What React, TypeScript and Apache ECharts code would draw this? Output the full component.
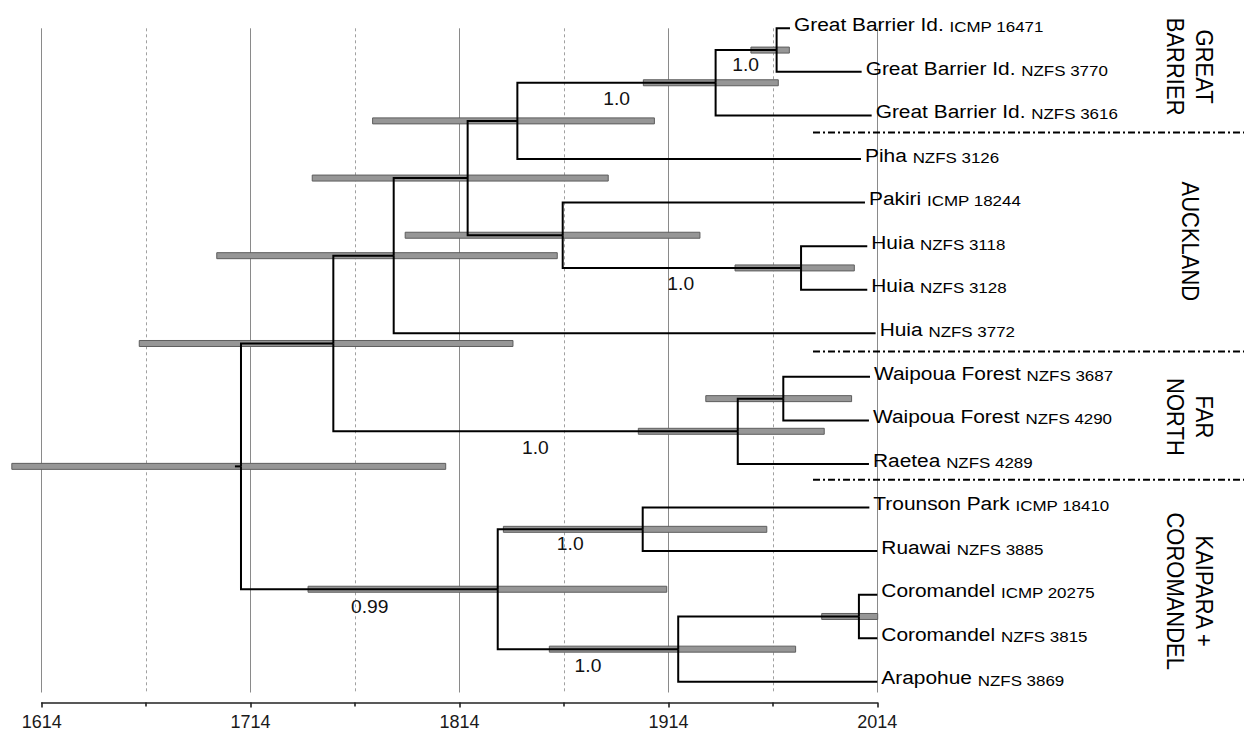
import React, { useEffect, useRef } from 'react';
import * as echarts from 'echarts';

// ---------- data ----------
const BASE_YEAR = 1614;
const END_YEAR = 2014;
const TICK_STEP = 100;

const leafNames = [
  'Great Barrier Id.', 'Great Barrier Id.', 'Great Barrier Id.', 'Piha', 'Pakiri',
  'Huia', 'Huia', 'Huia', 'Waipoua Forest', 'Waipoua Forest', 'Raetea',
  'Trounson Park', 'Ruawai', 'Coromandel', 'Coromandel', 'Arapohue',
];
const leafCodes = [
  'ICMP 16471', 'NZFS 3770', 'NZFS 3616', 'NZFS 3126', 'ICMP 18244',
  'NZFS 3118', 'NZFS 3128', 'NZFS 3772', 'NZFS 3687', 'NZFS 4290', 'NZFS 4289',
  'ICMP 18410', 'NZFS 3885', 'ICMP 20275', 'NZFS 3815', 'NZFS 3869',
];
const leafTimes = [
  1972.2, 2006.5, 2011.3, 2006.2, 2008.1, 2009.2, 2009.2, 2013.2,
  2010.5, 2010.0, 2010.0, 2010.2, 2014.0, 2014.0, 2014.0, 2014.0,
];

// internal nodes: N0 = root
const nodeTimes = [
  1709.4, 1753.6, 1832.3, 1782.5, 1817.9, 1841.7, 1936.6, 1965.8,
  1863.4, 1977.5, 1947.2, 1969.0, 1901.7, 1918.7, 2005.2,
];
const nodeChildren: string[][] = [
  ['N1', 'N2'],
  ['N3', 'N10'],
  ['N12', 'N13'],
  ['N4', 'L7'],
  ['N5', 'N8'],
  ['N6', 'L3'],
  ['N7', 'L2'],
  ['L0', 'L1'],
  ['L4', 'N9'],
  ['L5', 'L6'],
  ['N11', 'L10'],
  ['L8', 'L9'],
  ['L11', 'L12'],
  ['N14', 'L15'],
  ['L13', 'L14'],
];
const rootStubTime = 1706.5;

// 95% HPD intervals of node ages
const hpdLow = [
  1599.7, 1660.7, 1741.5, 1697.8, 1743.5, 1772.4, 1902.0, 1953.5,
  1788.0, 1945.9, 1899.6, 1931.9, 1835.0, 1857.0, 1987.4,
];
const hpdHigh = [
  1807.4, 1839.6, 1913.2, 1860.8, 1885.2, 1907.3, 1966.6, 1971.9,
  1929.1, 2003.0, 1988.6, 2001.7, 1961.1, 1974.9, 2014.2,
];

// posterior support labels
const supportValues = ['1.0', '1.0', '1.0', '1.0', '1.0', '1.0', '0.99'];
const supportYears = [1951.0, 1889.2, 1919.9, 1850.3, 1867.0, 1875.5, 1771.0];
const supportRows = [0.84, 1.62, 5.87, 9.64, 11.84, 14.63, 13.27];

// geographic groups
const groupNames = ['GREAT\nBARRIER', 'AUCKLAND', 'FAR\nNORTH', 'KAIPARA +\nCOROMANDEL'];
const groupRows = [0.88, 4.89, 8.92, 12.92];
const separatorRows = [2.39, 7.42, 10.36];

// ---------- helpers ----------
const FONT = "'Liberation Sans', Arial, Helvetica, sans-serif";
const idx = (id: string) => Number(id.slice(1));
const rowOf = (id: string): number => (id[0] === 'L' ? idx(id) : nodeRow(idx(id)));
function nodeRow(i: number): number {
  const c = nodeChildren[i];
  return (rowOf(c[0]) + rowOf(c[1])) / 2;
}
const timeOf = (id: string) => (id[0] === 'L' ? leafTimes[idx(id)] : nodeTimes[idx(id)]);
const X = (year: number) => year - BASE_YEAR;

export default function App() {
  const ref = useRef<HTMLDivElement>(null);

  useEffect(() => {
    if (!ref.current) return;
    const chart = echarts.init(ref.current, undefined, { renderer: 'svg' });

    const branchData: number[][] = [];
    nodeChildren.forEach((children, i) => {
      children.forEach((c) => {
        branchData.push([X(nodeTimes[i]), nodeRow(i), X(timeOf(c)), rowOf(c)]);
      });
    });
    branchData.push([X(rootStubTime), nodeRow(0), X(nodeTimes[0]), nodeRow(0)]);

    const hpdData = hpdLow.map((lo, i) => [X(lo), X(hpdHigh[i]), nodeRow(i)]);
    const leafData = leafTimes.map((t, i) => [X(t), i]);
    const supportData = supportYears.map((y, i) => [X(y), supportRows[i]]);
    const groupData = groupRows.map((r) => [X(END_YEAR), r]);
    const sepData = separatorRows.map((r) => [X(END_YEAR), r]);

    const option: any = {
      animation: false,
      grid: { left: 41.7, right: 366.7, top: 28.3, bottom: 38 },
      xAxis: {
        type: 'value',
        position: 'bottom',
        min: 0,
        max: END_YEAR - BASE_YEAR,
        interval: TICK_STEP,
        offset: 10,
        axisLine: { show: true, onZero: false, lineStyle: { color: '#222', width: 1.6 } },
        axisTick: { show: true, length: 5, lineStyle: { color: '#222', width: 1.6 } },
        minorTick: { show: true, splitNumber: 2, length: 4, lineStyle: { color: '#222', width: 1.6 } },
        axisLabel: {
          formatter: (v: number) => String(v + BASE_YEAR),
          fontSize: 18,
          color: '#1a1a1a',
          fontFamily: FONT,
          margin: 10.5,
        },
        splitLine: { show: true, lineStyle: { color: '#8a8a8a', width: 1 } },
        minorSplitLine: { show: true, lineStyle: { color: '#a0a0a0', width: 1, type: [3, 3] } },
      },
      yAxis: {
        type: 'value',
        inverse: true,
        min: 0,
        max: 15.245,
        show: false,
        splitLine: { show: false },
      },
      series: [
        {
          type: 'custom',
          name: 'hpd',
          coordinateSystem: 'cartesian2d',
          encode: { x: [0, 1], y: 2 },
          data: hpdData,
          z: 2,
          renderItem: (params: any, api: any) => {
            const a = api.coord([api.value(0), api.value(2)]);
            const b = api.coord([api.value(1), api.value(2)]);
            return {
              type: 'rect',
              shape: { x: a[0], y: a[1] - 3, width: b[0] - a[0], height: 6 },
              style: { fill: '#969696', stroke: '#5e5e5e', lineWidth: 1 },
            };
          },
        },
        {
          type: 'custom',
          name: 'tree',
          coordinateSystem: 'cartesian2d',
          encode: { x: [0, 2], y: [1, 3] },
          data: branchData,
          z: 3,
          renderItem: (params: any, api: any) => {
            const p0 = api.coord([api.value(0), api.value(1)]);
            const p1 = api.coord([api.value(0), api.value(3)]);
            const p2 = api.coord([api.value(2), api.value(3)]);
            return {
              type: 'polyline',
              shape: { points: [p0, p1, p2] },
              style: { stroke: '#000', lineWidth: 2, fill: null, lineJoin: 'miter', lineCap: 'butt' },
            };
          },
        },
        {
          type: 'custom',
          name: 'leaves',
          coordinateSystem: 'cartesian2d',
          encode: { x: 0, y: 1 },
          data: leafData,
          z: 4,
          renderItem: (params: any, api: any) => {
            const i = params.dataIndex;
            const p = api.coord([api.value(0), api.value(1)]);
            return {
              type: 'text',
              x: p[0] + 4,
              y: p[1] - 4,
              scaleX: 1.1,
              style: {
                text: `{n|${leafNames[i]} }{c|${leafCodes[i]}}`,
                fontSize: 19,
                fontFamily: FONT,
                fill: '#000',
                align: 'left',
                verticalAlign: 'middle',
                rich: {
                  n: { fontSize: 19, lineHeight: 19, fontFamily: FONT, fill: '#000', verticalAlign: 'bottom' },
                  c: { fontSize: 15.4, lineHeight: 15.4, fontFamily: FONT, fill: '#000', verticalAlign: 'bottom' },
                },
              },
            };
          },
        },
        {
          type: 'custom',
          name: 'support',
          coordinateSystem: 'cartesian2d',
          encode: { x: 0, y: 1 },
          data: supportData,
          z: 4,
          renderItem: (params: any, api: any) => {
            const p = api.coord([api.value(0), api.value(1)]);
            return {
              type: 'text',
              x: p[0],
              y: p[1],
              scaleX: 1.1,
              style: {
                text: supportValues[params.dataIndex],
                fontSize: 17.5,
                fontFamily: FONT,
                fill: '#111',
                align: 'center',
                verticalAlign: 'middle',
              },
            };
          },
        },
        {
          type: 'custom',
          name: 'separators',
          coordinateSystem: 'cartesian2d',
          encode: { x: 0, y: 1 },
          data: sepData,
          z: 4,
          renderItem: (params: any, api: any) => {
            const p = api.coord([api.value(0), api.value(1)]);
            return {
              type: 'line',
              shape: { x1: 813, y1: p[1], x2: 1244, y2: p[1] },
              style: { stroke: '#000', lineWidth: 2, lineDash: [7, 3, 2, 3] },
            };
          },
        },
        {
          type: 'custom',
          name: 'groups',
          coordinateSystem: 'cartesian2d',
          encode: { x: 0, y: 1 },
          data: groupData,
          z: 4,
          renderItem: (params: any, api: any) => {
            const p = api.coord([api.value(0), api.value(1)]);
            return {
              type: 'text',
              x: 1190,
              y: p[1],
              rotation: -Math.PI / 2,
              scaleY: 1.1,
              style: {
                text: groupNames[params.dataIndex],
                fontSize: 22,
                lineHeight: 26.5,
                fontFamily: FONT,
                fill: '#000',
                align: 'center',
                verticalAlign: 'middle',
              },
            };
          },
        },
      ],
    };

    chart.setOption(option);
    return () => chart.dispose();
  }, []);

  return (
    <div
      ref={ref}
      style={{ position: 'absolute', left: 0, top: 0, width: 1244, height: 731, background: '#fff' }}
    />
  );
}
